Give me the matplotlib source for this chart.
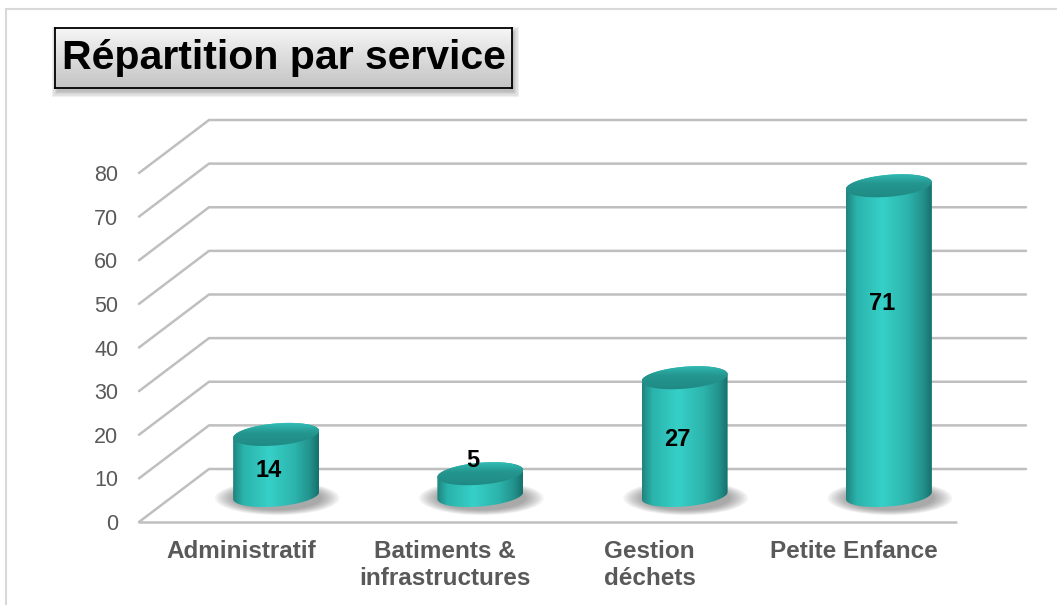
import numpy as np
import matplotlib.pyplot as plt
from matplotlib.patches import Polygon, Ellipse, Rectangle
from matplotlib.lines import Line2D
from matplotlib.colors import to_rgb

plt.rcParams['font.family'] = ['Liberation Sans', 'DejaVu Sans']

services = ['Administratif', 'Batiments &\ninfrastructures', 'Gestion\ndéchets', 'Petite Enfance']
effectifs = [14, 5, 27, 71]
graduations = list(range(0, 90, 10))
# hauteur des étiquettes de valeur, en unités de l'axe
pos_etiquettes = [11.9, 14.2, 18.8, 50.2]

W, H = 1057, 605
fig = plt.figure(figsize=(W / 100, H / 100), dpi=100)
ax = fig.add_axes([139 / W, 83 / H, 817 / W, 349 / H])

# échelles en pixels pour la perspective
px_x = 817 / 4
px_y = 349 / 80
dx = 70 / px_x      # profondeur du plancher
dy = 53 / px_y

# quadrillage 3D : paroi gauche + fond
for v in graduations:
    ax.plot([-0.5, -0.5 + dx, 3.5 + dx], [v, v + dy, v + dy], color='#bfbfbf',
            lw=1.8, clip_on=False, zorder=1, solid_capstyle='round')
ax.plot([-0.5, 3.5], [0, 0], color='#bfbfbf', lw=1.8, clip_on=False, zorder=1,
        solid_capstyle='round')

# cylindres
a = 43 / px_x
b = 11 / px_y
shear = (7 / px_y) / (86 / px_x)


def ellipse(cx, cy, t):
    x = cx + a * np.cos(t)
    y = cy + b * np.sin(t) + shear * (x - cx)
    return np.column_stack([x, y])


def degrade(stops, n=256):
    pos = [s[0] for s in stops]
    cols = np.array([to_rgb(s[1]) for s in stops])
    u = np.linspace(0, 1, n)
    return np.column_stack([np.interp(u, pos, cols[:, k]) for k in range(3)])


corps = degrade([(0, '#1f837e'), (0.12, '#2ab3ab'), (0.42, '#36d0c8'),
                 (0.72, '#2cb4ac'), (0.9, '#22918b'), (1, '#18706c')])
dessus = degrade([(0, '#1e8680'), (0.55, '#24968f'), (0.8, '#2fb7af'),
                  (0.9, '#3fcbc3'), (1, '#2aa9a1')])

bas = np.linspace(np.pi, 2 * np.pi, 120)
haut = np.linspace(0, np.pi, 120)
tour = np.linspace(0, 2 * np.pi, 240)

for i, v in enumerate(effectifs):
    cx = i + 0.5 * dx
    cy = 0.5 * dy

    # ombre portée
    for k in range(10):
        f = k / 9
        ax.add_patch(Ellipse((cx + 0.005, cy - 0.6), width=2 * a * (1.45 - 0.42 * f),
                             height=(34 - 10 * f) / px_y, color='#404040',
                             alpha=0.055, lw=0, zorder=2))

    pts = np.vstack([ellipse(cx, cy, bas), ellipse(cx, cy + v, haut)])
    contour = Polygon(pts, closed=True, transform=ax.transData)
    im = ax.imshow(corps[np.newaxis, :, :], extent=[cx - a, cx + a, cy - 2 * b, cy + v + 2 * b],
                   aspect='auto', zorder=3, interpolation='bilinear')
    im.set_clip_path(contour)

    face = Polygon(ellipse(cx, cy + v, tour), closed=True, transform=ax.transData)
    im2 = ax.imshow(dessus[::-1, np.newaxis, :], extent=[cx - a, cx + a, cy + v - 1.5 * b, cy + v + 1.5 * b],
                    aspect='auto', zorder=4, interpolation='bilinear')
    im2.set_clip_path(face)

    ax.text(cx - 0.035, pos_etiquettes[i], str(v), ha='center', va='center',
            fontsize=17, fontweight='bold', color='black', zorder=6)

ax.set_xlim(-0.5, 3.5)
ax.set_ylim(0, 80)

ax.set_yticks(graduations)
ax.set_yticklabels([str(v) for v in graduations])
ax.tick_params(axis='y', length=0, pad=15, labelsize=15.5, labelcolor='#595959')
ax.set_xticks(range(len(services)))
ax.set_xticklabels(services, fontsize=17.5, fontweight='bold', color='#595959')
ax.tick_params(axis='x', length=0, pad=13)
for s in ax.spines.values():
    s.set_visible(False)
ax.patch.set_visible(False)

# cadre de la zone de graphique
fig.add_artist(Line2D([6 / W, 1], [1 - 9 / H, 1 - 9 / H], color='#d9d9d9', lw=1.5))
fig.add_artist(Line2D([6 / W, 6 / W], [0, 1 - 9 / H], color='#d9d9d9', lw=1.5))

# titre encadré avec ombre
for k in range(5):
    e = k * 1.2
    fig.add_artist(Rectangle(((55 + 2 - e) / W, 1 - (88 + 4 + e) / H), (457 + 2 * e) / W,
                             (60 + 2 * e) / H, color='#555555', alpha=0.09, lw=0, zorder=-1))

tax = fig.add_axes([55 / W, 1 - 88 / H, 457 / W, 60 / H], zorder=5)
fond = degrade([(0, '#c4c4c4'), (0.5, '#dcdcdc'), (1, '#f6f6f6')])
tax.imshow(fond[:, np.newaxis, :], extent=[0, 1, 0, 1], aspect='auto', origin='lower')
tax.set_xticks([])
tax.set_yticks([])
for s in tax.spines.values():
    s.set_color('black')
    s.set_linewidth(1.3)
tax.text(0.5, 0.5, 'Répartition par service', transform=tax.transAxes, ha='center', va='center',
         fontsize=29.5, fontweight='bold', color='black')

fig.savefig('out.png', dpi=100)
